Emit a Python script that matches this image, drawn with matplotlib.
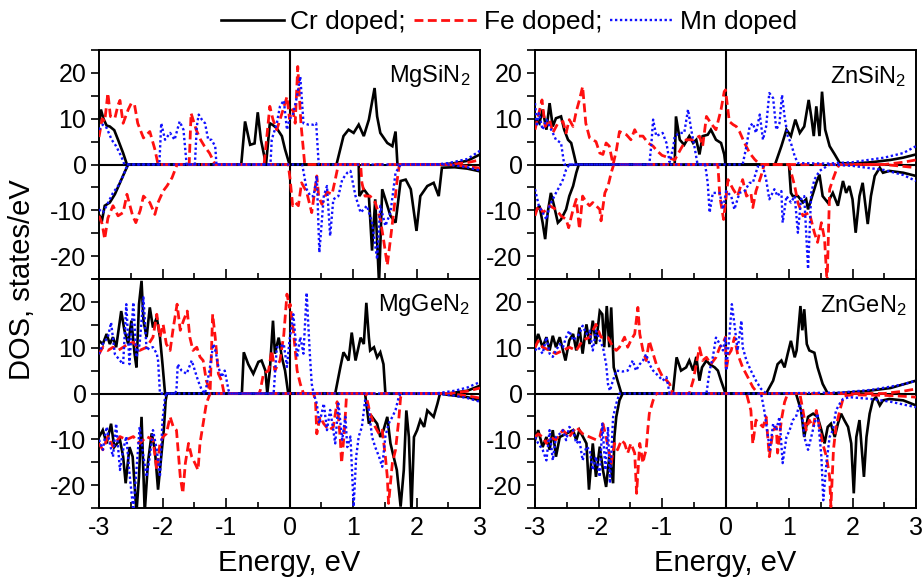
import matplotlib
matplotlib.use("Agg")
import matplotlib.pyplot as plt
from matplotlib.lines import Line2D
import numpy as np

plt.rcParams['font.family'] = ['Liberation Sans', 'DejaVu Sans']
plt.rcParams['mathtext.fontset'] = 'custom'
plt.rcParams['mathtext.rm'] = 'Liberation Sans'
plt.rcParams['mathtext.it'] = 'Liberation Sans'
plt.rcParams['axes.unicode_minus'] = False

# ---------------- data: (energy eV, DOS states/eV); positive = spin up, negative = spin down
mgsin_cr_up = [(-3.0,9),(-2.97,12),(-2.93,10),(-2.88,8.5),(-2.83,8.3),(-2.76,7.5),(-2.7,5.4),(-2.62,2.5),(-2.56,0),(-0.76,0),(-0.70,9.4),(-0.62,4.3),(-0.55,4.6),(-0.50,11.4),(-0.45,5.4),(-0.37,0),(-0.31,9),(-0.26,8.6),(-0.2,7.9),(-0.12,6.2),(-0.07,3.3),(0.0,0),(0.74,0),(0.85,6.2),(0.93,7.6),(1.01,6.9),(1.09,8.7),(1.17,6.2),(1.25,9.8),(1.34,16.7),(1.38,10.5),(1.43,6.9),(1.54,4.7),(1.62,4.0),(1.67,7.2),(1.70,0),(2.4,0),(2.6,0.3),(2.8,0.8),(3.0,2.2)]
mgsin_cr_dn = [(-3.0,-11),(-2.95,-12),(-2.91,-9),(-2.83,-8.3),(-2.75,-6.5),(-2.67,-4),(-2.6,-1.8),(-2.54,0),(1.09,0),(1.1,-6.9),(1.17,-5.4),(1.25,-6.9),(1.30,-18.8),(1.35,-7.6),(1.41,-26),(1.46,-5.4),(1.51,-7.6),(1.59,-11.2),(1.67,-12.7),(1.75,-3.6),(1.83,-3.3),(1.91,-5.4),(2.0,-14.5),(2.06,-6.9),(2.17,-4.7),(2.27,-4.0),(2.35,-6.9),(2.4,-0.7),(2.6,-0.6),(2.8,-0.9),(3.0,-1.5)]
mgsin_fe_up = [(-3.0,6),(-2.95,10),(-2.91,9.4),(-2.86,15.6),(-2.82,10.5),(-2.75,10.1),(-2.7,13),(-2.67,14),(-2.62,9),(-2.54,12),(-2.49,13.4),(-2.44,13),(-2.39,9),(-2.3,5.8),(-2.2,7.2),(-2.12,3.3),(-2.07,0),(-1.58,0),(-1.55,11.2),(-1.47,7.6),(-1.4,5.4),(-1.34,4),(-1.26,2.5),(-1.17,0),(-0.4,0),(-0.31,12.7),(-0.26,9.8),(-0.2,7.6),(-0.1,12),(-0.04,14.8),(0.0,10),(0.05,12),(0.09,9),(0.13,21.4),(0.18,9),(0.24,0),(2.5,0),(2.8,0.4),(3.0,1.0)]
mgsin_fe_dn = [(-3.0,-11.2),(-2.95,-13),(-2.91,-16.3),(-2.86,-11.7),(-2.78,-9),(-2.7,-11.2),(-2.62,-10.5),(-2.56,-6.5),(-2.47,-11.2),(-2.42,-12.7),(-2.35,-10),(-2.3,-6.9),(-2.2,-8.3),(-2.12,-10.9),(-2.07,-8.3),(-1.99,-5.8),(-1.93,-4.7),(-1.85,-2.9),(-1.77,0),(-0.02,0),(0.01,-3.3),(0.05,-9),(0.09,-8.3),(0.14,-9),(0.19,-4),(0.27,-6),(0.35,-10.5),(0.43,-2.5),(0.46,-7),(0.51,-8.7),(0.59,-6),(0.67,-6.5),(0.72,-3.3),(0.77,0),(1.12,0),(1.14,-4),(1.19,-6.9),(1.27,-6.9),(1.35,-8.3),(1.43,-12),(1.48,-16.3),(1.54,-22),(1.59,-16.3),(1.64,-10.5),(1.69,-4),(1.73,0),(2.5,0),(2.8,-0.4),(3.0,-0.8)]
mgsin_mn_up = [(-3.0,7.6),(-2.94,8.7),(-2.88,8),(-2.8,5.4),(-2.73,4),(-2.65,1.8),(-2.6,0),(-2.05,0),(-2.02,9),(-1.96,5.4),(-1.88,6.9),(-1.81,5.4),(-1.73,9.4),(-1.67,7.6),(-1.62,0),(-1.49,0),(-1.46,8.3),(-1.43,10.9),(-1.38,9.8),(-1.33,9),(-1.28,5.4),(-1.23,5.4),(-1.17,4),(-1.15,0),(-0.3,0),(-0.28,5.4),(-0.2,9),(-0.15,12.7),(-0.09,14),(-0.04,7.6),(0.0,9.8),(0.06,11.2),(0.12,15),(0.17,19.2),(0.22,9),(0.3,8.7),(0.38,8.7),(0.42,9),(0.46,0),(2.3,0),(2.5,0.3),(2.8,1.2),(3.0,3.0)]
mgsin_mn_dn = [(-3.0,-9.8),(-2.94,-10.5),(-2.88,-9),(-2.83,-7.6),(-2.78,-6.2),(-2.7,-4.7),(-2.62,-2.5),(-2.57,-0.7),(-2.54,0),(0.2,0),(0.27,-5.4),(0.33,-6.9),(0.38,-6.9),(0.43,-2.5),(0.47,-19.2),(0.54,-6.9),(0.59,-4.7),(0.64,-15.6),(0.69,-7.6),(0.77,-6.9),(0.83,-3.3),(0.91,-1.8),(0.96,-1.4),(1.04,-6.9),(1.12,-10.5),(1.22,-9),(1.3,-12.7),(1.38,-20.7),(1.43,-9),(1.51,-13.4),(1.59,-10.5),(1.67,-1.8),(1.72,-0.7),(1.75,0),(2.5,0),(2.8,-0.6),(3.0,-1.3)]

znsin_cr_up = [(-3.0,10.1),(-2.93,9),(-2.88,12),(-2.82,7.6),(-2.77,13.4),(-2.72,8.3),(-2.67,10.1),(-2.59,10.5),(-2.54,7.6),(-2.48,5.4),(-2.43,4.7),(-2.38,1.8),(-2.35,0),(-0.8,0),(-0.78,10.5),(-0.72,5.4),(-0.65,4.3),(-0.57,6.2),(-0.51,4.7),(-0.46,5.4),(-0.41,2.2),(-0.36,6.2),(-0.28,6.5),(-0.23,7.6),(-0.15,5.4),(-0.07,4.7),(-0.02,2.2),(0.0,0),(0.78,0),(0.88,4),(0.96,7.6),(1.03,6.2),(1.1,9.8),(1.17,6.9),(1.24,8.3),(1.31,14.1),(1.35,10.5),(1.39,6.2),(1.43,12.7),(1.48,6.2),(1.52,15.9),(1.57,7.6),(1.64,4),(1.72,2.2),(1.8,0.3),(2.0,0.2),(2.3,0.5),(2.6,1.0),(2.8,1.5),(3.0,2.2)]
znsin_cr_dn = [(-3.0,-10.5),(-2.93,-9),(-2.88,-12.7),(-2.84,-16.3),(-2.8,-10.5),(-2.75,-6.2),(-2.7,-9),(-2.64,-12.7),(-2.59,-12),(-2.51,-9.8),(-2.46,-6.9),(-2.4,-4.7),(-2.35,-1.8),(-2.31,0),(1.0,0),(1.03,-6.2),(1.06,-6.9),(1.14,-6.9),(1.22,-8.3),(1.27,-7.6),(1.3,-9.8),(1.43,-4),(1.48,-2.2),(1.53,-6.9),(1.61,-8.3),(1.69,-6.2),(1.77,-9),(1.85,-3.6),(1.9,-6.2),(1.95,-4.7),(2.0,-7.6),(2.05,-14.9),(2.11,-6.9),(2.16,-4),(2.24,-13),(2.29,-6.9),(2.35,-2.5),(2.43,-0.7),(2.48,-1.8),(2.58,-1.4),(2.8,-1.8),(3.0,-2.5)]
znsin_fe_up = [(-3.0,7.6),(-2.95,10.5),(-2.89,14.1),(-2.84,8.3),(-2.77,9.8),(-2.72,6.9),(-2.64,9),(-2.56,9.4),(-2.51,6.9),(-2.46,9.8),(-2.4,8.3),(-2.35,11.6),(-2.3,14.1),(-2.25,17),(-2.2,9),(-2.14,5.8),(-2.04,5),(-1.98,2.5),(-1.93,2.2),(-1.88,4.7),(-1.83,4),(-1.77,0),(-1.72,3),(-1.67,7.2),(-1.56,6.5),(-1.49,5.4),(-1.43,7.6),(-1.38,6.2),(-1.3,6.2),(-1.22,4.7),(-1.14,4),(-1.08,3),(-1.0,2),(-0.9,1.5),(-0.8,1),(-0.7,3.5),(-0.62,5.4),(-0.51,5.4),(-0.41,6.2),(-0.36,4),(-0.3,10.5),(-0.23,9),(-0.15,7.6),(-0.07,12),(-0.02,15.9),(0.0,16.3),(0.06,9.4),(0.12,8.7),(0.17,8.3),(0.22,7.2),(0.3,4.7),(0.38,2.5),(0.46,1.1),(0.54,0),(2.5,0),(2.8,0.5),(3.0,1.0)]
znsin_fe_dn = [(-3.0,-11.2),(-2.95,-9),(-2.87,-10.5),(-2.77,-9),(-2.67,-9.8),(-2.59,-11.2),(-2.51,-12),(-2.47,-13.8),(-2.4,-9.8),(-2.35,-7.6),(-2.3,-14.1),(-2.25,-6.9),(-2.19,-8.3),(-2.14,-9),(-2.09,-8.3),(-1.98,-9.8),(-1.96,-12.3),(-1.9,-6.2),(-1.85,-4.7),(-1.8,-1.8),(-1.76,0),(-0.12,0),(-0.09,-6.9),(-0.03,-12),(0.04,-3.3),(0.12,-5.4),(0.19,-6.9),(0.27,-3.3),(0.33,-6.9),(0.4,-6.2),(0.43,-9.4),(0.48,-5.8),(0.56,-2.5),(0.61,0),(1.0,0),(1.09,-4.7),(1.14,-8.3),(1.22,-11.2),(1.32,-10.5),(1.4,-14.9),(1.45,-17),(1.51,-12.7),(1.56,-16.3),(1.6,-26),(1.64,-5.4),(1.69,-3.3),(1.74,-1.4),(1.79,0),(2.5,0),(2.8,-0.4),(3.0,-0.7)]
znsin_mn_up = [(-3.0,13.4),(-2.97,8.3),(-2.94,11.2),(-2.88,7.6),(-2.82,9.8),(-2.77,8.3),(-2.72,6.9),(-2.67,5.4),(-2.59,4.7),(-2.54,0),(-1.2,0),(-1.17,4),(-1.14,9.8),(-1.09,6.2),(-0.99,6.9),(-0.93,4.7),(-0.88,0.5),(-0.82,4),(-0.8,6.2),(-0.72,6.9),(-0.65,6.9),(-0.59,12),(-0.54,7.6),(-0.49,4),(-0.44,0),(0.27,0),(0.33,4),(0.38,8.3),(0.43,9),(0.48,6.9),(0.54,10.9),(0.59,5.4),(0.64,8.3),(0.69,15.6),(0.75,14.5),(0.8,7.6),(0.85,9),(0.89,15.2),(0.93,10.5),(0.98,6.2),(1.03,4.7),(1.09,1.8),(1.14,0.3),(1.6,0.2),(2.0,0.5),(2.5,1.5),(2.8,2.5),(3.0,4.0)]
znsin_mn_dn = [(-3.0,-5.4),(-2.94,-9),(-2.88,-10.5),(-2.82,-12),(-2.77,-9),(-2.72,-7.6),(-2.67,-6.2),(-2.61,-4.7),(-2.56,-3.3),(-2.51,-1.1),(-2.46,0),(-0.32,0),(-0.28,-4),(-0.25,-10.5),(-0.2,-6.2),(-0.15,-6.2),(-0.09,-6.2),(-0.04,-9.8),(0.01,-5.8),(0.09,-6.9),(0.14,-9.8),(0.22,-6.2),(0.3,-5.8),(0.38,-4),(0.43,-4),(0.51,-0.4),(0.59,-0.4),(0.64,-3.3),(0.69,-7.6),(0.77,-5.4),(0.82,-6.9),(0.88,-5.8),(0.9,-12.7),(0.96,-6.9),(1.03,-8.3),(1.09,-6.9),(1.14,-14.9),(1.19,-7.6),(1.24,-6.9),(1.3,-22.8),(1.35,-6.2),(1.4,-3.3),(1.48,-1.4),(1.56,-0.7),(1.64,0),(2.0,-0.3),(2.5,-1.2),(2.8,-2.3),(3.0,-3.6)]

mggen_cr_up = [(-3.0,11.5),(-2.94,10.8),(-2.88,13),(-2.83,10.8),(-2.78,12.3),(-2.73,10.1),(-2.65,18),(-2.6,13.8),(-2.54,10.8),(-2.49,15.9),(-2.44,8.7),(-2.41,5.7),(-2.37,19.5),(-2.33,24.6),(-2.3,15.9),(-2.25,12.3),(-2.2,18.8),(-2.15,14.4),(-2.09,16.6),(-2.04,12.3),(-2.0,6.4),(-1.96,0),(-0.75,0),(-0.72,9),(-0.65,6.4),(-0.57,4.3),(-0.49,6.9),(-0.44,7.2),(-0.38,5),(-0.35,0),(-0.31,5),(-0.26,15.9),(-0.23,8.7),(-0.17,12.2),(-0.12,7.9),(-0.07,5),(-0.02,0),(0.72,0),(0.8,5.7),(0.85,9),(0.93,7.2),(0.98,13.3),(1.04,7.2),(1.12,12.2),(1.17,10.8),(1.21,19.8),(1.25,12.2),(1.27,9.4),(1.33,10.1),(1.38,7.9),(1.43,9),(1.48,6.4),(1.51,0),(2.5,0),(2.8,0.6),(3.0,1.7)]
mggen_cr_dn = [(-3.0,-9.5),(-2.94,-8),(-2.88,-10.9),(-2.81,-6.6),(-2.76,-11.7),(-2.67,-10.1),(-2.62,-13.8),(-2.58,-19.6),(-2.52,-11.7),(-2.47,-13.8),(-2.41,-26),(-2.37,-18.1),(-2.33,-5.1),(-2.28,-26),(-2.23,-15.2),(-2.17,-8.7),(-2.12,-12.3),(-2.07,-21),(-2.02,-13.8),(-1.98,-8),(-1.95,-1.5),(-1.93,0),(1.19,0),(1.25,-6.6),(1.3,-5.1),(1.38,-6.6),(1.43,-9.5),(1.48,-8),(1.54,-5.1),(1.59,-10.9),(1.64,-13.8),(1.69,-16.7),(1.75,-24.7),(1.8,-16.7),(1.84,-3.7),(1.88,-9.5),(1.92,-26),(1.96,-9.5),(2.01,-8),(2.06,-5.8),(2.12,-7.3),(2.17,-3.7),(2.22,-4.4),(2.27,-5.1),(2.33,-2.2),(2.37,0),(2.5,-0.3),(2.8,-0.8),(3.0,-1.5)]
mggen_fe_up = [(-3.0,8.6),(-2.94,10.1),(-2.86,9.4),(-2.78,10.1),(-2.7,9.4),(-2.62,10.1),(-2.54,10.8),(-2.46,11.2),(-2.36,9.4),(-2.25,10.1),(-2.15,12.3),(-2.09,17.3),(-2.04,12.3),(-1.99,15.1),(-1.94,10.8),(-1.88,9.4),(-1.83,14.4),(-1.77,19.5),(-1.72,13.8),(-1.67,15.9),(-1.61,18),(-1.57,12.3),(-1.52,9.4),(-1.46,10.1),(-1.41,8),(-1.36,7.2),(-1.31,2.8),(-1.25,0.5),(-1.21,17.3),(-1.17,12.3),(-1.12,4.3),(-1.07,2.8),(-1.03,0),(-0.48,0),(-0.46,0.7),(-0.41,4.3),(-0.33,5),(-0.28,9.4),(-0.23,5),(-0.15,7.2),(-0.09,12.8),(-0.04,21.7),(0.0,18.8),(0.01,19.5),(0.06,13.8),(0.12,5),(0.17,2.1),(0.22,0),(2.5,0),(2.8,0.5),(3.0,1.2)]
mggen_fe_dn = [(-3.0,-10.9),(-2.94,-12.3),(-2.86,-9.4),(-2.78,-11.6),(-2.67,-9.4),(-2.57,-10.1),(-2.46,-9.4),(-2.36,-10.9),(-2.25,-9.4),(-2.15,-10.1),(-2.09,-16.7),(-2.04,-10.9),(-1.99,-9.4),(-1.94,-8.8),(-1.88,-5.1),(-1.83,-7.3),(-1.78,-8),(-1.72,-18.2),(-1.68,-21.8),(-1.64,-15.2),(-1.59,-10.9),(-1.54,-13.8),(-1.49,-15.2),(-1.44,-16.7),(-1.41,-10.9),(-1.36,-6.6),(-1.31,-2.2),(-1.25,0),(0.38,0),(0.41,-1.8),(0.43,-8.8),(0.48,-5.1),(0.54,-6.6),(0.62,-8),(0.69,-7.3),(0.75,-1.8),(0.8,-10),(0.82,-15.2),(0.86,-9),(0.9,0),(1.2,0),(1.27,-4.4),(1.35,-7.3),(1.41,-8.8),(1.46,-8),(1.51,-13.8),(1.54,-18.2),(1.56,-24),(1.62,-15.2),(1.67,-12.3),(1.72,-5.8),(1.75,-0.8),(1.78,0),(2.5,0),(2.8,-0.5),(3.0,-1.0)]
mggen_mn_up = [(-3.0,8.6),(-2.94,10.8),(-2.86,12.3),(-2.81,15.5),(-2.75,8.6),(-2.67,7.2),(-2.62,6.4),(-2.57,19.5),(-2.52,6.4),(-2.46,19.9),(-2.41,7.9),(-2.36,10.8),(-2.3,21),(-2.25,9.4),(-2.2,10.1),(-2.15,10.1),(-2.09,8.7),(-2.07,7.2),(-2.04,0),(-1.8,0),(-1.78,0.7),(-1.76,6.4),(-1.7,5),(-1.62,4.3),(-1.54,7.2),(-1.49,5),(-1.44,2.8),(-1.38,0.7),(-1.33,0),(-1.26,5),(-1.23,8),(-1.2,10.8),(-1.16,9),(-1.12,5.8),(-1.07,3.6),(-1.02,5),(-0.96,0.7),(-0.94,0),(-0.25,0),(-0.2,10.1),(-0.15,10.1),(-0.09,10.8),(-0.04,5.8),(0.0,11.6),(0.06,17.3),(0.12,7.9),(0.17,12.3),(0.22,8.7),(0.27,22),(0.32,8.7),(0.35,2.1),(0.38,0),(2.3,0),(2.6,0.6),(2.8,1.3),(3.0,2.5)]
mggen_mn_dn = [(-3.0,-10.1),(-2.94,-12.3),(-2.88,-7.3),(-2.83,-10.9),(-2.78,-13.8),(-2.73,-6.6),(-2.67,-16.7),(-2.62,-12.3),(-2.57,-9.4),(-2.52,-17.4),(-2.46,-25.4),(-2.41,-16.7),(-2.36,-7.3),(-2.3,-13.8),(-2.25,-18.2),(-2.2,-13.8),(-2.15,-8),(-2.09,-12.3),(-2.04,-18.2),(-2.0,-5.8),(-1.96,-0.8),(-1.94,0),(0.38,0),(0.43,-2.2),(0.47,-6.6),(0.54,-2.2),(0.59,-8),(0.64,-3.6),(0.69,-8),(0.72,-10.9),(0.77,-2.2),(0.83,-10.1),(0.88,-5.1),(0.91,-11.7),(0.96,-9.4),(1.01,-24.7),(1.05,-13.8),(1.09,-9.4),(1.14,-7.3),(1.19,-1.5),(1.25,-3.6),(1.3,-9.5),(1.35,-11.7),(1.41,-13.8),(1.46,-16),(1.51,-9.4),(1.56,-6.6),(1.62,-5.1),(1.67,-3.6),(1.72,-0.8),(1.75,0),(2.3,0),(2.6,-0.5),(2.8,-1.0),(3.0,-1.8)]

zngen_cr_up = [(-3.0,10.8),(-2.95,13),(-2.88,10.1),(-2.82,12.3),(-2.77,9.4),(-2.72,12.6),(-2.67,10.1),(-2.61,12.3),(-2.56,9.4),(-2.52,7.2),(-2.46,11.6),(-2.4,13),(-2.35,9.4),(-2.3,14.4),(-2.25,8.7),(-2.19,15.1),(-2.14,10.8),(-2.09,15.9),(-2.04,10.8),(-1.98,18),(-1.94,17.3),(-1.91,10.1),(-1.87,19.1),(-1.83,10.1),(-1.8,18.8),(-1.76,5.7),(-1.7,2.8),(-1.64,0),(-0.83,0),(-0.77,7.9),(-0.7,5),(-0.62,5.7),(-0.57,7.2),(-0.51,5),(-0.46,8),(-0.41,2.8),(-0.37,5.7),(-0.3,7.2),(-0.25,6.4),(-0.17,5.7),(-0.12,5),(-0.07,2.8),(0.0,0),(0.64,0),(0.75,2.8),(0.82,6.4),(0.88,7.2),(0.93,5.7),(0.98,8.7),(1.03,11.5),(1.09,7.9),(1.12,9.4),(1.18,19.1),(1.21,13.8),(1.24,18.4),(1.28,10.8),(1.32,9.4),(1.4,8.9),(1.45,5.7),(1.53,2.1),(1.61,0),(1.8,0.1),(2.2,0.5),(2.6,1.2),(2.8,2.0),(3.0,2.8)]
zngen_cr_dn = [(-3.0,-10.2),(-2.95,-8),(-2.88,-11.7),(-2.82,-9.5),(-2.77,-12.3),(-2.72,-8),(-2.67,-13.8),(-2.61,-9.5),(-2.51,-8.8),(-2.4,-8),(-2.35,-10.2),(-2.3,-8),(-2.19,-10.9),(-2.15,-21),(-2.09,-10.9),(-2.04,-18.2),(-1.98,-11.6),(-1.93,-16.7),(-1.88,-20.4),(-1.83,-13.8),(-1.77,-19.6),(-1.75,-9.5),(-1.72,-5.1),(-1.67,-1.5),(-1.62,0),(1.11,0),(1.19,-3.7),(1.24,-9.5),(1.3,-5.1),(1.38,-4.4),(1.45,-5.1),(1.51,-8),(1.56,-10.9),(1.61,-7.3),(1.66,-6.6),(1.72,-9.5),(1.77,-6.6),(1.82,-4.4),(1.87,-5.8),(1.93,-7.3),(1.98,-10.9),(2.02,-21.8),(2.06,-9.5),(2.11,-5.8),(2.18,-18.2),(2.22,-9.5),(2.27,-4.4),(2.32,-1.5),(2.37,-0.8),(2.43,-2.6),(2.48,-1.5),(2.58,-1.2),(2.8,-1.5),(3.0,-2.6)]
zngen_fe_up = [(-3.0,10),(-2.95,11.5),(-2.88,10.1),(-2.77,9.4),(-2.67,8.7),(-2.56,9.4),(-2.46,10.1),(-2.35,9.4),(-2.25,11.6),(-2.14,12.3),(-2.04,15.1),(-1.96,12.3),(-1.85,12.2),(-1.77,10.1),(-1.72,9.4),(-1.67,10.1),(-1.59,12.3),(-1.54,10.1),(-1.49,11.6),(-1.43,13),(-1.38,18.8),(-1.35,13),(-1.3,9.4),(-1.25,7.2),(-1.2,11.5),(-1.14,8.7),(-1.09,6.4),(-1.04,5),(-0.99,3.6),(-0.93,2.9),(-0.88,2.1),(-0.83,0),(-0.57,0),(-0.51,2.8),(-0.46,6.4),(-0.41,10),(-0.36,7.2),(-0.3,7.9),(-0.23,6.4),(-0.15,7.9),(-0.09,10.1),(-0.04,11),(0.0,12.3),(0.01,5),(0.05,8.5),(0.09,9.4),(0.14,12.2),(0.19,8.7),(0.27,5.7),(0.35,3.6),(0.43,1.4),(0.51,0),(2.5,0),(2.8,0.5),(3.0,1.0)]
zngen_fe_dn = [(-3.0,-9.5),(-2.95,-8.8),(-2.88,-9.5),(-2.82,-10.9),(-2.77,-9.5),(-2.67,-10.1),(-2.56,-8),(-2.46,-9.5),(-2.35,-7.3),(-2.25,-8.8),(-2.14,-9.5),(-2.04,-10.1),(-1.98,-9.5),(-1.93,-6.6),(-1.88,-9.5),(-1.8,-15.2),(-1.75,-10.9),(-1.7,-12.3),(-1.64,-10.2),(-1.59,-10.9),(-1.54,-13),(-1.49,-10.9),(-1.43,-13),(-1.4,-21.8),(-1.35,-10.9),(-1.3,-15.2),(-1.28,-13.8),(-1.25,-12.3),(-1.22,-7.3),(-1.2,-4.4),(-1.14,-1.5),(-1.09,0),(0.33,0),(0.4,-3.7),(0.43,-11),(0.48,-5.8),(0.59,-7.3),(0.64,-5.1),(0.69,-13.8),(0.75,-8),(0.8,-7.3),(0.82,-13),(0.88,-5.8),(0.93,-1.9),(0.98,0),(1.17,0),(1.22,-3.7),(1.27,-8),(1.32,-5.8),(1.38,-7.3),(1.43,-3.7),(1.48,-7.3),(1.53,-10.9),(1.59,-13.8),(1.64,-18.2),(1.66,-24.7),(1.7,-12.3),(1.74,-7.3),(1.8,-3.7),(1.85,-1.2),(1.87,-0.5),(2.0,-0.3),(2.5,-0.4),(2.8,-0.6),(3.0,-0.8)]
zngen_mn_up = [(-3.0,9.4),(-2.95,10.1),(-2.88,8.7),(-2.82,12.3),(-2.77,8.7),(-2.72,8),(-2.67,9.4),(-2.61,10.8),(-2.56,10.1),(-2.51,12.3),(-2.46,13.7),(-2.4,11.6),(-2.35,12.3),(-2.3,13),(-2.25,14.8),(-2.19,13),(-2.14,13.7),(-2.09,9.4),(-2.04,13.7),(-1.98,11.6),(-1.93,10.1),(-1.88,6.4),(-1.85,2),(-1.82,0.6),(-1.78,2.5),(-1.72,5),(-1.62,4.8),(-1.54,5),(-1.46,7.2),(-1.41,5),(-1.35,6.4),(-1.3,7.2),(-1.25,8.6),(-1.2,6.4),(-1.14,5),(-1.09,4.3),(-1.04,3.6),(-0.99,2.8),(-0.93,3.6),(-0.88,0),(-0.3,0),(-0.25,5),(-0.2,7.9),(-0.15,12.2),(-0.09,10.8),(-0.04,9.4),(0.0,12.3),(0.01,5),(0.06,12.3),(0.1,19.5),(0.14,15.2),(0.19,9.4),(0.25,15.9),(0.27,10.1),(0.33,7.2),(0.4,5),(0.48,2.8),(0.56,1),(0.64,0),(1.8,0.2),(2.3,0.8),(2.6,1.5),(2.8,2.0),(3.0,2.8)]
zngen_mn_dn = [(-3.0,-9.5),(-2.95,-10.9),(-2.88,-12.3),(-2.82,-14.6),(-2.77,-8),(-2.72,-14.6),(-2.67,-9.5),(-2.61,-8.8),(-2.56,-8),(-2.51,-10.2),(-2.46,-7.3),(-2.4,-8),(-2.35,-10.9),(-2.3,-10.2),(-2.25,-14.6),(-2.19,-11.6),(-2.14,-12.3),(-2.09,-16.7),(-2.04,-13.8),(-1.98,-18.2),(-1.94,-6.6),(-1.89,-16.7),(-1.85,-7.3),(-1.82,-19.6),(-1.77,-5.1),(-1.72,-2.2),(-1.67,0),(0.56,0),(0.61,-3.7),(0.67,-9.5),(0.7,-12.3),(0.75,-6.6),(0.8,-8),(0.85,-5.1),(0.9,-15.2),(0.96,-9.5),(1.01,-8),(1.06,-5.8),(1.11,-5.1),(1.17,-2.2),(1.21,-5.1),(1.24,-9.5),(1.3,-12.3),(1.35,-9.5),(1.4,-6.6),(1.45,-4.4),(1.51,-13.8),(1.54,-23.3),(1.59,-15.2),(1.64,-9.5),(1.69,-8),(1.74,-3.7),(1.8,-2.2),(1.85,-1.2),(1.95,-0.8),(2.3,-1.2),(2.6,-1.8),(2.8,-2.4),(3.0,-3.0)]

panel_names = ["MgSiN$_2$", "ZnSiN$_2$", "MgGeN$_2$", "ZnGeN$_2$"]
series_labels = ["Cr doped;", "Fe doped;", "Mn doped"]
x_ticks = [-3, -2, -1, 0, 1, 2, 3]
y_ticks = [-20, -10, 0, 10, 20]

panel_data = [
    [(mgsin_cr_up, mgsin_cr_dn), (mgsin_fe_up, mgsin_fe_dn), (mgsin_mn_up, mgsin_mn_dn)],
    [(znsin_cr_up, znsin_cr_dn), (znsin_fe_up, znsin_fe_dn), (znsin_mn_up, znsin_mn_dn)],
    [(mggen_cr_up, mggen_cr_dn), (mggen_fe_up, mggen_fe_dn), (mggen_mn_up, mggen_mn_dn)],
    [(zngen_cr_up, zngen_cr_dn), (zngen_fe_up, zngen_fe_dn), (zngen_mn_up, zngen_mn_dn)],
]

styles = [
    dict(color='black', lw=1.9, ls='-'),
    dict(color='#ff1010', lw=2.0, ls=(0, (3.2, 1.6))),
    dict(color='#1010ff', lw=1.7, ls=(0, (1, 1.1))),
]

W, H = 923, 583
fig = plt.figure(figsize=(W / 100, H / 100), dpi=100)

col_left = [99, 535]
col_w = 381
row_top = [50, 279]
row_h = 229

axes = []
for i in range(4):
    r, c = divmod(i, 2)
    l = col_left[c] / W
    b = 1 - (row_top[r] + row_h) / H
    ax = fig.add_axes([l, b, col_w / W, row_h / H])
    axes.append(ax)
    ax.axhline(0, color='black', lw=1.5, zorder=1)
    ax.axvline(0, color='black', lw=1.5, zorder=1)
    for k, (up, dn) in enumerate(panel_data[i]):
        st = styles[k]
        for curve in (up, dn):
            e = [p[0] for p in curve]
            d = [p[1] for p in curve]
            ax.plot(e, d, color=st['color'], lw=st['lw'], ls=st['ls'], zorder=2 + k,
                    solid_joinstyle='miter')
    ax.set_xlim(-3, 3)
    ax.set_ylim(-25, 25)
    ax.set_xticks(x_ticks)
    ax.set_xticks(np.arange(-2.5, 3, 1.0), minor=True)
    ax.set_yticks(y_ticks)
    ax.set_yticks([-25, -15, -5, 5, 15, 25], minor=True)
    ax.tick_params(axis='x', which='major', direction='in', length=7, width=1.2, labelsize=18, pad=6)
    ax.tick_params(axis='x', which='minor', direction='in', length=4, width=1.2)
    ax.tick_params(axis='y', which='both', direction='out', length=6, width=1.2, labelsize=18, pad=3)
    if r == 0:
        ax.tick_params(axis='x', labelbottom=False)
    for s in ax.spines.values():
        s.set_linewidth(1.4)
    ax.text(0.975, 0.885, panel_names[i], transform=ax.transAxes, ha='right', va='center',
            fontsize=17)

fig.text(0.024, 0.52, 'DOS, states/eV', rotation=90, ha='center', va='center', fontsize=21)
fig.text((99 + 480) / 2 / W, 1 - 563 / H, 'Energy, eV', ha='center', va='center', fontsize=21)
fig.text((535 + 916) / 2 / W, 1 - 563 / H, 'Energy, eV', ha='center', va='center', fontsize=21)

handles = [Line2D([], [], color=st['color'], lw=st['lw'], ls=st['ls']) for st in styles]
fig.legend(handles, series_labels, loc='center', bbox_to_anchor=(509 / W, 1 - 22 / H),
           ncol=3, frameon=False, fontsize=19, handlelength=2.4, handletextpad=0.25,
           columnspacing=0.3, borderpad=0.1)

fig.savefig('out.png', dpi=100)
